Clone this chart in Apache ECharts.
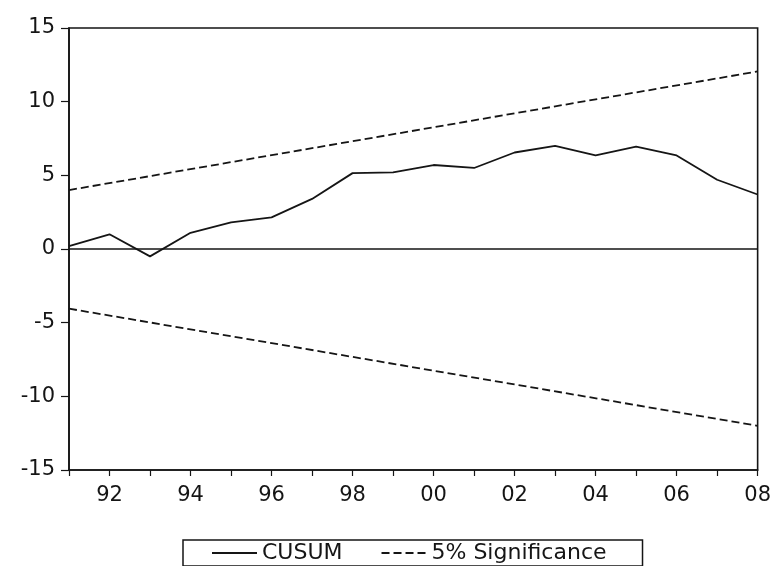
<!DOCTYPE html>
<html>
<head>
<meta charset="utf-8">
<script src="https://cdn.jsdelivr.net/npm/echarts@6/dist/echarts.min.js"></script>
<style>
html,body{margin:0;padding:0;background:#fff;}
#c{width:774px;height:566px;}
</style>
</head>
<body>
<div id="c"></div>
<script>
// Years of the CUSUM test
const years = [1991,1992,1993,1994,1995,1996,1997,1998,1999,2000,2001,2002,2003,2004,2005,2006,2007,2008];
// CUSUM values
const cusum = [0.2,1.0,-0.5,1.1,1.8,2.15,3.4,5.15,5.2,5.7,5.5,6.55,7.0,6.35,6.95,6.35,4.7,3.7];
// 5% significance bounds (straight lines, endpoints)
const boundYears = [1991, 2008];
const upperBound = [4.0, 12.05];
const lowerBound = [-4.05, -12.0];
// Tick labels on x axis (every second year)
const xTickLabels = ['92','94','96','98','00','02','04','06','08'];
const yTicks = [-15,-10,-5,0,5,10,15];

const pairs = (xs, ys) => xs.map((x,i)=>[x, ys[i]]);
const font = 'DejaVu Sans, Verdana, sans-serif';
const ink = '#151515';

const chart = echarts.init(document.getElementById('c'), null, {renderer:'canvas'});
chart.setOption({
  backgroundColor:'#ffffff',
  animation:false,
  grid:{left:69,right:16,top:28,bottom:96,show:true,borderColor:ink,borderWidth:1.6,backgroundColor:'transparent'},
  xAxis:{
    type:'value', min:years[0], max:years[years.length-1], interval:1,
    axisLine:{show:true,onZero:false,lineStyle:{color:ink,width:1.6}},
    axisTick:{show:true,length:6,lineStyle:{color:ink,width:1.2}},
    splitLine:{show:false},
    axisLabel:{
      margin:15, fontSize:21, color:ink, fontFamily:font,
      formatter:function(v){ const s=String(v).slice(2); return (v%2===0 && xTickLabels.indexOf(s)>=0) ? s : ''; }
    }
  },
  yAxis:{
    type:'value', min:yTicks[0], max:yTicks[yTicks.length-1], interval:5,
    axisLine:{show:true,onZero:false,lineStyle:{color:ink,width:1.6}},
    axisTick:{show:true,length:8,lineStyle:{color:ink,width:1.2}},
    splitLine:{show:false},
    axisLabel:{margin:14,fontSize:21,color:ink,fontFamily:font}
  },
  legend:{
    data:['CUSUM','5% Significance'],
    left:183, top:540,
    borderColor:ink, borderWidth:1.5, borderRadius:0,
    padding:[2,36,2,28],
    itemWidth:45, itemHeight:14, itemGap:38,
    itemStyle:{opacity:0},
    textStyle:{fontSize:22,color:ink,fontFamily:font}
  },
  series:[
    {
      name:'CUSUM', type:'line', data:pairs(years,cusum),
      symbol:'none', lineStyle:{color:ink,width:1.8,type:'solid'},
      itemStyle:{color:ink},
      markLine:{silent:true,symbol:'none',label:{show:false},
        lineStyle:{color:ink,width:1.6,type:'solid'},
        data:[{yAxis:0}]}
    },
    {
      name:'5% Significance', type:'line', data:pairs(boundYears,upperBound),
      symbol:'none', lineStyle:{color:ink,width:1.8,type:[8,4]},
      itemStyle:{color:ink}
    },
    {
      name:'5% Significance', type:'line', data:pairs(boundYears,lowerBound),
      symbol:'none', lineStyle:{color:ink,width:1.8,type:[8,4]},
      itemStyle:{color:ink}
    }
  ]
});
</script>
</body>
</html>
